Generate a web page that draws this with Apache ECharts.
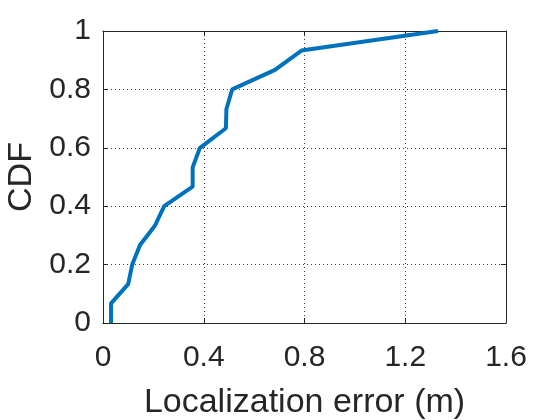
<!DOCTYPE html>
<html>
<head>
<meta charset="utf-8">
<script src="https://cdn.jsdelivr.net/npm/echarts@6/dist/echarts.min.js"></script>
<style>
html, body { margin: 0; padding: 0; background: #fff; }
#chart { width: 560px; height: 420px; }
</style>
</head>
<body>
<div id="chart"></div>
<script>
// CDF of localization error
var errorValues = [0.032, 0.032, 0.1, 0.116, 0.147, 0.206, 0.243, 0.356, 0.356, 0.385, 0.488, 0.49, 0.513, 0.683, 0.788, 1.33];
var cdfValues = [0, 0.067, 0.133, 0.2, 0.267, 0.333, 0.4, 0.467, 0.533, 0.6, 0.667, 0.733, 0.8, 0.867, 0.933, 1];
var xTicks = [0, 0.4, 0.8, 1.2, 1.6];
var yTicks = [0, 0.2, 0.4, 0.6, 0.8, 1];

var chart = echarts.init(document.getElementById('chart'));
var fontFamily = '"Liberation Sans", Arial, Helvetica, sans-serif';
var ink = '#262626';

var points = [];
for (var i = 0; i < errorValues.length; i++) {
    points.push([errorValues[i], cdfValues[i]]);
}

function boxAxis(pos, isX, show) {
    var a = {
        type: 'value',
        position: pos,
        min: isX ? xTicks[0] : yTicks[0],
        max: isX ? xTicks[xTicks.length - 1] : yTicks[yTicks.length - 1],
        interval: isX ? 0.4 : 0.2,
        axisLine: { show: true, onZero: false, lineStyle: { color: ink, width: 1 } },
        axisTick: { show: true, inside: true, length: 5, lineStyle: { color: ink } },
        axisLabel: { show: show, color: ink, fontSize: 30, fontFamily: fontFamily, margin: isX ? 20 : 12 },
        splitLine: { show: show, lineStyle: { color: ink, type: [1, 3], width: 1, opacity: 0.9 } }
    };
    return a;
}

var xMain = boxAxis('bottom', true, true);
xMain.name = 'Localization error (m)';
xMain.nameLocation = 'middle';
xMain.nameGap = 63;
xMain.nameTextStyle = { color: ink, fontSize: 34, fontFamily: fontFamily };

var yMain = boxAxis('left', false, true);
yMain.name = 'CDF';
yMain.nameLocation = 'middle';
yMain.nameGap = 62;
yMain.nameTextStyle = { color: ink, fontSize: 34, fontFamily: fontFamily };

var option = {
    animation: false,
    backgroundColor: '#fff',
    grid: { left: 103, right: 54, top: 31, bottom: 97, containLabel: false, outerBoundsMode: 'none' },
    xAxis: [xMain, boxAxis('top', true, false)],
    yAxis: [yMain, boxAxis('right', false, false)],
    series: [
        {
            type: 'line',
            data: points,
            showSymbol: false,
            lineStyle: { color: '#0072BD', width: 4 },
            itemStyle: { color: '#0072BD' }
        }
    ]
};
chart.setOption(option);
</script>
</body>
</html>
